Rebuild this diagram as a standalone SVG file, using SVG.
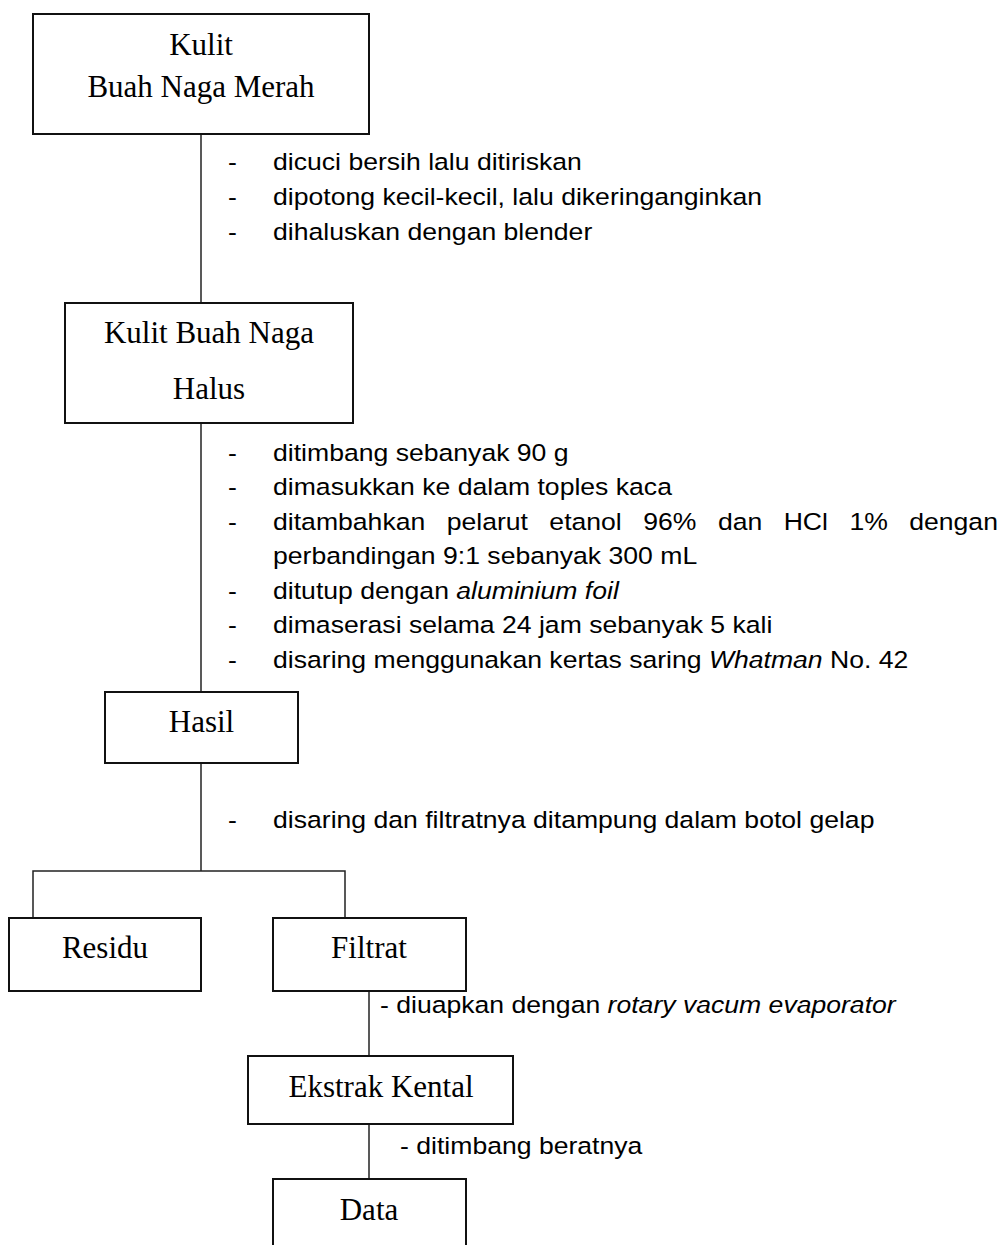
<svg xmlns="http://www.w3.org/2000/svg" width="1002" height="1245" viewBox="0 0 1002 1245">
<style>
.box{fill:#fff;stroke:#111;stroke-width:2}
.ln{fill:none;stroke:#222;stroke-width:1.5}
.serif{font-family:"Liberation Serif","Times New Roman",serif;font-size:31px;fill:#000;text-anchor:middle}
.sans{font-family:"Liberation Sans",Arial,sans-serif;font-size:23.5px;fill:#000}
.it{font-style:italic}
</style>
<rect width="1002" height="1245" fill="#fff"/>
<g id="connectors">
<line class="ln" x1="201" y1="134" x2="201" y2="303"/>
<line class="ln" x1="201" y1="423" x2="201" y2="692"/>
<line class="ln" x1="201" y1="763" x2="201" y2="871"/>
<polyline class="ln" points="33,918 33,871 345,871 345,918"/>
<line class="ln" x1="369" y1="991" x2="369" y2="1056"/>
<line class="ln" x1="369" y1="1124" x2="369" y2="1179"/>
</g>
<g id="node-kulit">
<rect class="box" x="33" y="14" width="336" height="120"/>
<text class="serif" x="201" y="55">Kulit</text>
<text class="serif" x="201" y="97">Buah Naga Merah</text>
</g>
<g id="node-halus">
<rect class="box" x="65" y="303" width="288" height="120"/>
<text class="serif" x="209" y="343">Kulit Buah Naga</text>
<text class="serif" x="209" y="399">Halus</text>
</g>
<g id="node-hasil">
<rect class="box" x="105" y="692" width="193" height="71"/>
<text class="serif" x="201.5" y="732">Hasil</text>
</g>
<g id="node-residu">
<rect class="box" x="9" y="918" width="192" height="73"/>
<text class="serif" x="105" y="958">Residu</text>
</g>
<g id="node-filtrat">
<rect class="box" x="273" y="918" width="193" height="73"/>
<text class="serif" x="369" y="958">Filtrat</text>
</g>
<g id="node-ekstrak">
<rect class="box" x="248" y="1056" width="265" height="68"/>
<text class="serif" x="381" y="1097">Ekstrak Kental</text>
</g>
<g id="node-data">
<rect class="box" x="273" y="1179" width="193" height="80"/>
<text class="serif" x="369" y="1220">Data</text>
</g>
<g id="labels" class="sans" transform="scale(1.132 1)">
<text x="201.4" y="170">-</text>
<text x="241.2" y="170">dicuci bersih lalu ditiriskan</text>
<text x="201.4" y="205">-</text>
<text x="241.2" y="205">dipotong kecil-kecil, lalu dikeringanginkan</text>
<text x="201.4" y="240">-</text>
<text x="241.2" y="240">dihaluskan dengan blender</text>

<text x="201.4" y="461">-</text>
<text x="241.2" y="461">ditimbang sebanyak 90 g</text>
<text x="201.4" y="495">-</text>
<text x="241.2" y="495">dimasukkan ke dalam toples kaca</text>
<text x="201.4" y="530">-</text>
<text y="530"><tspan x="241.2">ditambahkan</tspan><tspan x="394.6">pelarut</tspan><tspan x="485.3">etanol</tspan><tspan x="568.3">96%</tspan><tspan x="634.2">dan</tspan><tspan x="692.3">HCl</tspan><tspan x="750.4">1%</tspan><tspan x="803.2">dengan</tspan></text>
<text x="241.2" y="564">perbandingan 9:1 sebanyak 300 mL</text>
<text x="201.4" y="599">-</text>
<text x="241.2" y="599">ditutup dengan <tspan class="it">aluminium foil</tspan></text>
<text x="201.4" y="633">-</text>
<text x="241.2" y="633">dimaserasi selama 24 jam sebanyak 5 kali</text>
<text x="201.4" y="668">-</text>
<text x="241.2" y="668">disaring menggunakan kertas saring <tspan class="it">Whatman</tspan> No. 42</text>

<text x="201.4" y="828">-</text>
<text x="241.2" y="828">disaring dan filtratnya ditampung dalam botol gelap</text>

<text x="335.7" y="1013">- diuapkan dengan <tspan class="it">rotary vacum evaporator</tspan></text>
<text x="353.4" y="1154">- ditimbang beratnya</text>
</g>
</svg>
